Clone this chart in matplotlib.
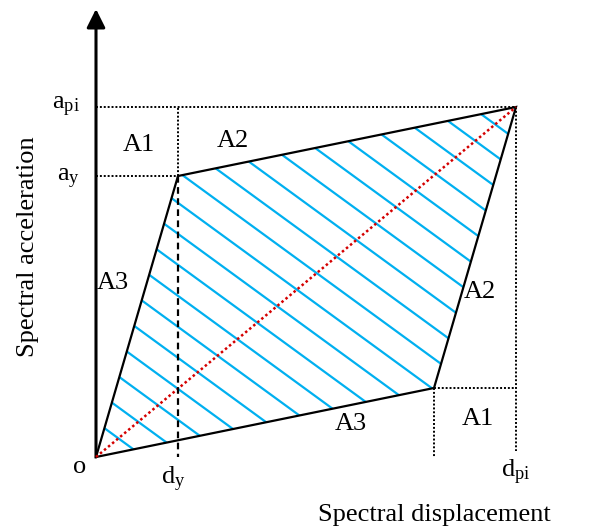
import matplotlib
matplotlib.use('Agg')
import matplotlib.pyplot as plt
from matplotlib.patches import Polygon
import numpy as np

plt.rcParams['font.family'] = ['Liberation Serif', 'DejaVu Serif']
plt.rcParams['mathtext.fontset'] = 'custom'
plt.rcParams['mathtext.rm'] = 'Liberation Serif'
plt.rcParams['mathtext.it'] = 'Liberation Serif:italic'

# capacity-spectrum points (drawing units, origin at O)
d_y, a_y = 82, 281        # yield point
d_pi, a_pi = 420, 350     # performance point
# lower corner of the parallelogram
d_q, a_q = d_pi - d_y, a_pi - a_y

area_labels = ['A1', 'A2', 'A3', 'A2', 'A3', 'A1']
area_x = [43, 137, 17, 384, 255, 382]
area_y = [312, 316, 174, 165, 33, 38]

fig = plt.figure(figsize=(5.94, 5.31), dpi=100)
ax = fig.add_axes([0, 0, 1, 1])
ax.set_xlim(-96, 498)
ax.set_ylim(-74, 457)
ax.axis('off')

# hatched parallelogram
corners = np.array([[0, 0], [d_y, a_y], [d_pi, a_pi], [d_q, a_q]])
poly = Polygon(corners, closed=True, facecolor='none', edgecolor='black', lw=1.6, zorder=4)
ax.add_patch(poly)
clip = Polygon(corners, closed=True, facecolor='none', edgecolor='none')
ax.add_patch(clip)
slope = 0.73
xs = np.array([-50, 500])
for c in np.arange(35, slope * d_pi + a_pi, 31):
    ln, = ax.plot(xs, c - slope * xs, color='#00B0F0', lw=1.6, zorder=2)
    ln.set_clip_path(clip)

# red diagonal O -> performance point
ax.plot([0, d_pi], [0, a_pi], color='#D40000', lw=1.8, ls=(0, (1, 1.1)), zorder=5)

# guide lines
dot = dict(color='black', lw=1.4, ls=(0, (1, 1)), zorder=3)
ax.plot([0, d_pi], [a_pi, a_pi], **dot)
ax.plot([d_pi, d_pi], [a_pi, 6], **dot)
ax.plot([0, d_y], [a_y, a_y], **dot)
ax.plot([d_y, d_y], [a_y, a_pi], **dot)
ax.plot([d_q, d_pi], [a_q, a_q], **dot)
ax.plot([d_q, d_q], [a_q, 0], **dot)
ax.plot([d_y, d_y], [a_y, 0], color='black', lw=1.6, ls=(0, (3, 2)), zorder=5)

# axes arrows
arrow = dict(arrowstyle='-|>', lw=2.2, color='black', mutation_scale=28, shrinkA=0, shrinkB=0)
ax.annotate('', xy=(0, 448), xytext=(0, 0), arrowprops=arrow)
ax.annotate('', xy=(505, 7), xytext=(-1, 0), arrowprops=arrow)

fs = 19
ax.text(-16, 350, r'$\mathrm{a}_{\mathrm{pi}}$', fontsize=fs, ha='right', va='center')
ax.text(-16, 278, r'$\mathrm{a}_{\mathrm{y}}$', fontsize=fs, ha='right', va='center')
ax.text(-16, -10, 'o', fontsize=fs, ha='center', va='center')
ax.text(d_y - 5, -22, r'$\mathrm{d}_{\mathrm{y}}$', fontsize=fs, ha='center', va='center')
ax.text(d_pi, -15, r'$\mathrm{d}_{\mathrm{pi}}$', fontsize=fs, ha='center', va='center')
for lab, x, y in zip(area_labels, area_x, area_y):
    ax.text(x, y, lab, fontsize=fs, ha='center', va='center')

ax.text(-68, 210, 'Spectral acceleration', fontsize=fs, rotation=90, ha='center', va='center')
ax.text(338, -58, 'Spectral displacement', fontsize=fs, ha='center', va='center')

fig.savefig('out.png', dpi=100)
